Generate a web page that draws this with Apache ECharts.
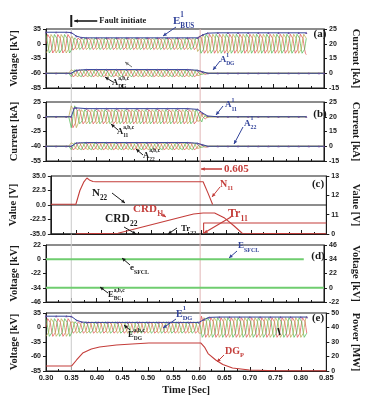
<!DOCTYPE html>
<html>
<head>
<meta charset="utf-8">
<script src="https://cdn.jsdelivr.net/npm/echarts@6/dist/echarts.min.js"></script>
<style>
  html, body { margin: 0; padding: 0; background: #fff; }
  #chart { width: 369px; height: 401px; }
</style>
</head>
<body>
<div id="chart"></div>
<script>
// time axis (s)
const timeMin = 0.30, timeMax = 0.85, timeStep = 0.05;
const refTimes = [0.35, 0.605];

// tick labels, bottom -> top. The axes of the figure are not linear:
// every value below is given in "tick slot" units (0 = lowest tick ... 4 = top tick)
const ticksA_L = ['-85', '-60', '-35', '0', '35'];
const ticksA_R = ['-15', '0', '15', '20', '25'];
const ticksB_L = ['-55', '-40', '-25', '0', '25'];
const ticksB_R = ['-15', '0', '15', '20', '25'];
const ticksC_L = ['-35.0', '-22.5', '0.0', '22.5', '35.0'];
const ticksC_R = ['0', '11', '12', '13'];
const ticksD_L = ['-46', '-34', '-22', '0', '22'];
const ticksD_R = ['-22', '0', '22', '34', '46'];
const ticksE_L = ['-85', '-60', '-35', '0', '35'];
const ticksE_R = ['0', '20', '30', '40', '50'];

// one drawn cycle of the three phase traces (50 Hz)
const waveShape = [0, 0.5, 0.87, 1, 0.87, 0.5, 0, -0.5, -0.87, -1, -0.87, -0.5];
const waveCycle = 0.02;
const phaseShift = [0, 4, 8];
const phaseColors = ['#e0474a', '#49b64b', '#b7a445'];

// trace amplitude [time, amp], held until the next key
const ampEbus = [[0.30, 0.72], [0.35, 0.5], [0.356, 0.45], [0.60, 0.6], [0.606, 0.74]];
const ampAdg = [[0.30, 0], [0.35, 0.27], [0.60, 0.18], [0.61, 0.08], [0.62, 0]];
const ampA11 = [[0.30, 0], [0.35, 0.85], [0.362, 0.55], [0.60, 0.35], [0.61, 0.15], [0.62, 0]];
const ampA22 = [[0.30, 0], [0.35, 0.27], [0.60, 0.15], [0.61, 0.07], [0.62, 0]];
const ampEdg = [[0.30, 0.7], [0.35, 0.45], [0.605, 0.78]];

// magnitude lines
const ebus1Line = [[0.30, 3.78], [0.32, 3.78], [0.34, 3.78], [0.35, 3.76], [0.36, 3.52], [0.37, 3.42], [0.38, 3.4], [0.40, 3.4], [0.42, 3.4], [0.44, 3.4], [0.46, 3.4], [0.48, 3.4], [0.50, 3.4], [0.52, 3.4], [0.54, 3.4], [0.56, 3.4], [0.58, 3.4], [0.60, 3.4], [0.61, 3.6], [0.62, 3.72], [0.64, 3.74], [0.66, 3.74], [0.68, 3.74], [0.70, 3.74], [0.72, 3.74], [0.74, 3.74], [0.76, 3.74], [0.78, 3.74], [0.80, 3.74], [0.815, 3.74]];
const adg1Line = [[0.30, 1], [0.32, 1], [0.34, 1], [0.35, 1], [0.36, 1.2], [0.38, 1.25], [0.40, 1.25], [0.42, 1.25], [0.44, 1.25], [0.46, 1.25], [0.48, 1.25], [0.50, 1.25], [0.52, 1.25], [0.54, 1.25], [0.56, 1.25], [0.58, 1.25], [0.60, 1.2], [0.61, 1.1], [0.62, 1], [0.64, 1], [0.66, 1], [0.68, 1], [0.70, 1], [0.72, 1], [0.74, 1], [0.76, 1], [0.78, 1], [0.80, 1], [0.82, 1], [0.84, 1], [0.85, 1]];
const a11Line = [[0.30, 3], [0.32, 3], [0.34, 3], [0.35, 3], [0.356, 3.6], [0.36, 3.6], [0.38, 3.55], [0.40, 3.55], [0.42, 3.55], [0.44, 3.55], [0.46, 3.55], [0.48, 3.55], [0.50, 3.55], [0.52, 3.55], [0.54, 3.55], [0.56, 3.55], [0.58, 3.55], [0.60, 3.5], [0.61, 3.25], [0.62, 3.05], [0.64, 3], [0.66, 3], [0.68, 3], [0.70, 3], [0.72, 3], [0.74, 3], [0.76, 3], [0.78, 3], [0.80, 3], [0.815, 3]];
const a22Line = [[0.30, 1], [0.32, 1], [0.34, 1], [0.35, 1], [0.36, 1.22], [0.38, 1.25], [0.40, 1.25], [0.42, 1.25], [0.44, 1.25], [0.46, 1.25], [0.48, 1.25], [0.50, 1.25], [0.52, 1.25], [0.54, 1.25], [0.56, 1.25], [0.58, 1.25], [0.60, 1.2], [0.61, 1.1], [0.62, 1], [0.64, 1], [0.66, 1], [0.68, 1], [0.70, 1], [0.72, 1], [0.74, 1], [0.76, 1], [0.78, 1], [0.80, 1], [0.82, 1], [0.84, 1], [0.85, 1]];
const edg1Line = [[0.30, 3.78], [0.32, 3.78], [0.34, 3.78], [0.35, 3.76], [0.36, 3.5], [0.37, 3.38], [0.38, 3.35], [0.40, 3.35], [0.42, 3.35], [0.44, 3.35], [0.46, 3.35], [0.48, 3.35], [0.50, 3.35], [0.52, 3.35], [0.54, 3.35], [0.56, 3.35], [0.58, 3.35], [0.60, 3.35], [0.61, 3.55], [0.62, 3.7], [0.64, 3.72], [0.66, 3.72], [0.68, 3.72], [0.70, 3.72], [0.72, 3.72], [0.74, 3.72], [0.76, 3.72], [0.78, 3.72], [0.80, 3.72], [0.812, 3.72]];

// panel (c)
const n22Line = [[0.30, 2], [0.85, 2]];
const n11Line = [[0.30, 2.05], [0.35, 2.05], [0.358, 3.0], [0.366, 3.6], [0.372, 3.86], [0.378, 3.7], [0.384, 3.62], [0.39, 3.6], [0.604, 3.6], [0.614, 2.8], [0.623, 2.03]];
const crd11Line = [[0.35, 0.02], [0.434, 0.05], [0.569, 1.24], [0.585, 1.38], [0.604, 1.45], [0.627, 1.45], [0.647, 1.1], [0.666, 0.55], [0.682, 0.05], [0.85, 0.02]];
const tr11Line = [[0.605, 0.02], [0.605, 0.76], [0.85, 0.76]];
const tr22Line = [[0.30, 0], [0.85, 0]];

// panel (d)
const eSfclLine = [[0.30, 3], [0.81, 3]];
const eBcLine = [[0.30, 1], [0.85, 1]];

// panel (e)
const dgPLine = [[0.30, 0.34], [0.35, 0.34], [0.36, 0.76], [0.372, 1.24], [0.389, 1.52], [0.405, 1.66], [0.438, 1.79], [0.469, 1.86], [0.502, 1.93], [0.569, 1.93], [0.604, 1.93], [0.611, 1.65], [0.618, 1.2], [0.633, 0.76], [0.647, 0.45], [0.666, 0.21], [0.699, 0.07], [0.753, 0.01], [0.85, 0.01]];

function ampAt(keys, t) {
  let a = keys[0][1];
  for (const [k, v] of keys) if (t >= k - 1e-9) a = v;
  return a;
}
function wave(center, keys, end, shift) {
  const out = [];
  const dt = waveCycle / waveShape.length;
  for (let i = 0; ; i++) {
    const t = timeMin + i * dt;
    if (t > end + 1e-9) break;
    out.push([t, center + ampAt(keys, t) * waveShape[(i + shift) % waveShape.length]]);
  }
  return out;
}

const grids = [[29, 59], [102, 59], [176, 58], [245, 57], [313, 58]];
const leftTicks = [ticksA_L, ticksB_L, ticksC_L, ticksD_L, ticksE_L];
const rightTicks = [ticksA_R, ticksB_R, ticksC_R, ticksD_R, ticksE_R];
const leftNames = ['Voltage [kV]', 'Current [kA]', 'Value [V]', 'Voltage [kV]', 'Voltage [kV]'];
const rightNames = ['Current [kA]', 'Current [kA]', 'Value [V]', 'Voltage [kV]', 'Power [MW]'];

const serif = '"Liberation Serif", "DejaVu Serif", serif';
const sans = '"Liberation Sans", Arial, sans-serif';
const red = '#c43d3a', blue = '#33449a', ink = '#1a1a1a';

const chart = echarts.init(document.getElementById('chart'));

const xAxes = grids.map((g, i) => ({
  type: 'value', gridIndex: i, min: timeMin, max: timeMax, interval: timeStep,
  axisLine: { lineStyle: { color: ink, width: 1 } },
  axisTick: { inside: true, length: 4, lineStyle: { color: ink } },
  minorTick: { show: true, splitNumber: 2, length: 2, lineStyle: { color: ink } },
  splitLine: { show: false },
  axisLabel: { show: i === 4, formatter: v => v.toFixed(2), fontFamily: sans, fontWeight: 'bold', fontSize: 7.5, color: ink, margin: 3 },
  name: i === 4 ? 'Time [Sec]' : '', nameLocation: 'middle', nameGap: 14,
  nameTextStyle: { fontFamily: serif, fontWeight: 'bold', fontSize: 10.5, color: ink }
}));

const yAxes = [];
grids.forEach((g, i) => {
  const common = {
    type: 'value', gridIndex: i, min: 0, interval: 1,
    axisLine: { show: true, lineStyle: { color: ink, width: 1 } },
    axisTick: { show: true, inside: false, length: 3, lineStyle: { color: ink } },
    splitLine: { show: false },
    nameLocation: 'middle',
    nameTextStyle: { fontFamily: serif, fontWeight: 'bold', fontSize: 10.5, color: ink }
  };
  yAxes.push(Object.assign({}, common, {
    position: 'left', max: 4, name: leftNames[i], nameGap: 19,
    axisLabel: { formatter: v => leftTicks[i][Math.round(v)], fontFamily: sans, fontWeight: 'bold', fontSize: 7, color: ink, margin: 5 }
  }));
  yAxes.push(Object.assign({}, common, {
    position: 'right', max: rightTicks[i].length - 1, name: rightNames[i], nameGap: 17, nameRotate: -90,
    axisLabel: { formatter: v => rightTicks[i][Math.round(v)], fontFamily: sans, fontWeight: 'bold', fontSize: 7, color: ink, margin: 5 }
  }));
});

function line(i, data, color, width, extra) {
  return Object.assign({
    type: 'line', xAxisIndex: i, yAxisIndex: 2 * i, data: data,
    symbol: 'none', showSymbol: false, lineStyle: { color: color, width: width },
    itemStyle: { color: color }, silent: true, z: 2
  }, extra || {});
}
function magLine(i, data) {
  return line(i, data, blue, 1, { symbol: 'triangle', showSymbol: true, symbolSize: 2.2, itemStyle: { color: '#6a4a9e' }, z: 4 });
}
function phases(i, center, amp, end) {
  return phaseShift.map((s, k) => line(i, wave(center, amp, end, s), phaseColors[k], 0.7));
}

const series = [].concat(
  phases(0, 3, ampEbus, 0.815), phases(0, 1, ampAdg, 0.85),
  [magLine(0, ebus1Line), magLine(0, adg1Line)],
  phases(1, 3, ampA11, 0.815), phases(1, 1, ampA22, 0.85),
  [magLine(1, a11Line), magLine(1, a22Line)],
  [line(2, n22Line, ink, 1), line(2, tr22Line, ink, 1), line(2, n11Line, red, 1.1),
   line(2, crd11Line, red, 1.1), line(2, tr11Line, red, 1.1)],
  [line(3, eSfclLine, '#6fcd6f', 2), line(3, eBcLine, '#6fcd6f', 2)],
  phases(4, 3, ampEdg, 0.812), [magLine(4, edg1Line), line(4, dgPLine, red, 1.1)]
);

chart.setOption({
  animation: false,
  grid: grids.map(g => ({ left: 46, right: 39, top: g[0], height: g[1], show: true, borderColor: ink, borderWidth: 1, backgroundColor: 'transparent' })),
  xAxis: xAxes,
  yAxis: yAxes,
  series: series
});

// ---- annotations ----
const ctx = document.createElement('canvas').getContext('2d');
function tw(s, font) { ctx.font = font; return ctx.measureText(s).width; }
function label(x, y, main, sub, sup, color, size) {
  const f = 'bold ' + size + 'px ' + serif;
  const fs = 'bold ' + (size * 0.65).toFixed(1) + 'px ' + serif;
  const w = tw(main, f);
  const els = [{ type: 'text', z: 10, style: { text: main, x: x, y: y, font: f, fill: color, verticalAlign: 'middle' } }];
  if (sub) els.push({ type: 'text', z: 10, style: { text: sub, x: x + w, y: y + size * 0.45, font: fs, fill: color, verticalAlign: 'middle' } });
  if (sup) els.push({ type: 'text', z: 10, style: { text: sup, x: x + w, y: y - size * 0.55, font: fs, fill: color, verticalAlign: 'middle' } });
  return els;
}
function arrow(x1, y1, x2, y2, color, w) {
  const a = Math.atan2(y2 - y1, x2 - x1), h = 4;
  return [
    { type: 'line', z: 10, shape: { x1: x1, y1: y1, x2: x2, y2: y2 }, style: { stroke: color, lineWidth: w || 1 } },
    { type: 'polygon', z: 10, shape: { points: [[x2, y2],
      [x2 - h * Math.cos(a - 0.45), y2 - h * Math.sin(a - 0.45)],
      [x2 - h * Math.cos(a + 0.45), y2 - h * Math.sin(a + 0.45)]] }, style: { fill: color } }
  ];
}
function panelTag(x, y, s) {
  return { type: 'text', z: 10, style: { text: s, x: x, y: y, font: 'bold 11px ' + serif, fill: ink, align: 'center', verticalAlign: 'middle' } };
}

const yTop = grids[0][0], yBot = grids[4][0] + grids[4][1];
const refX = refTimes.map(t => chart.convertToPixel({ xAxisIndex: 0 }, t));
const x35 = refX[0];

let els = [];
els.push({ type: 'line', z: 1, shape: { x1: refX[0], y1: yTop, x2: refX[0], y2: yBot }, style: { stroke: '#c9c9c9', lineWidth: 1 } });
els.push({ type: 'line', z: 1, shape: { x1: refX[1], y1: yTop, x2: refX[1], y2: yBot }, style: { stroke: '#e2b6b6', lineWidth: 1 } });

// (a)
els.push({ type: 'line', z: 10, shape: { x1: x35, y1: 15, x2: x35, y2: 27 }, style: { stroke: ink, lineWidth: 2 } });
els = els.concat(arrow(x35 + 26, 21, x35 + 3, 21, ink, 1.6));
els.push({ type: 'text', z: 10, style: { text: 'Fault initiate', x: x35 + 28, y: 21, font: 'bold 8.5px ' + serif, fill: ink, verticalAlign: 'middle' } });
els = els.concat(label(173, 21, 'E', 'BUS', '1', blue, 11), arrow(176, 27, 163, 36, blue));
els = els.concat(arrow(132, 67, 125, 62, '#777'));
els = els.concat(label(112, 83, 'A', 'DG', 'a,b,c', ink, 8.5), arrow(113, 82, 105, 77, ink));
els = els.concat(label(220, 60, 'A', 'DG', '1', blue, 8.5), arrow(220, 61, 213, 70, blue));
els.push(panelTag(320, 34, '(a)'));

// (b)
els = els.concat(label(117, 132, 'A', '11', 'a,b,c', ink, 8.5), arrow(118, 130, 111, 124, ink));
els = els.concat(label(143, 155.5, 'A', '22', 'a,b,c', ink, 8.5), arrow(143, 155, 136, 149, ink));
els = els.concat(label(225, 105, 'A', '11', '1', blue, 9), arrow(223, 106, 216, 115, blue));
els = els.concat(label(244, 123.5, 'A', '22', '1', blue, 9), arrow(243, 127, 234, 144, blue));
els.push(panelTag(320, 114, '(b)'));
els = els.concat(arrow(222, 169, refX[1] + 1, 169, red, 1.5));
els.push({ type: 'text', z: 10, style: { text: '0.605', x: 224, y: 169.5, font: 'bold 11px ' + serif, fill: red, verticalAlign: 'middle' } });

// (c)
els = els.concat(label(92, 193, 'N', '22', null, ink, 11), arrow(112, 193, 125, 203, ink));
els = els.concat(label(133, 209.5, 'CRD', '11', null, red, 11), arrow(158, 212, 166, 217, red));
els = els.concat(label(105, 219, 'CRD', '22', null, ink, 11.5), arrow(124, 227, 136, 234, ink));
els = els.concat(label(181, 229, 'Tr', '22', null, ink, 9), arrow(177, 228, 168, 234, ink));
els = els.concat(label(220, 184, 'N', '11', null, red, 10), arrow(220, 187, 212, 197, red));
els = els.concat(label(228, 213.5, 'Tr', '11', null, red, 12), arrow(231, 217, 204, 233, red, 1.2));
els.push(panelTag(318, 184, '(c)'));

// (d)
els = els.concat(label(238, 246, 'E', 'SFCL', null, blue, 9), arrow(237, 251, 229, 258, blue));
els = els.concat(label(130, 268, 'e', 'SFCL', null, '#222', 9), arrow(130, 265, 122, 258, ink));
els = els.concat(label(108, 295, 'E', 'BC', 'a,b,c', ink, 8.5), arrow(108, 293, 100, 287, ink));
els.push(panelTag(318, 256, '(d)'));

// (e)
els = els.concat(label(176, 314, 'E', 'DG', '1', blue, 10), arrow(176, 319, 163, 328, blue));
els = els.concat(label(128, 335, 'E', 'DG', 'a,b,c', ink, 8.5), arrow(130, 330, 124, 325, ink));
els = els.concat(label(225, 351, 'DG', 'P', null, red, 10), arrow(224, 355, 217, 362, red));
els.push({ type: 'line', z: 10, shape: { x1: 278, y1: 328, x2: 280, y2: 335 }, style: { stroke: ink, lineWidth: 1.5 } });
els.push(panelTag(318, 318, '(e)'));

chart.setOption({ graphic: { elements: els } });
</script>
</body>
</html>
